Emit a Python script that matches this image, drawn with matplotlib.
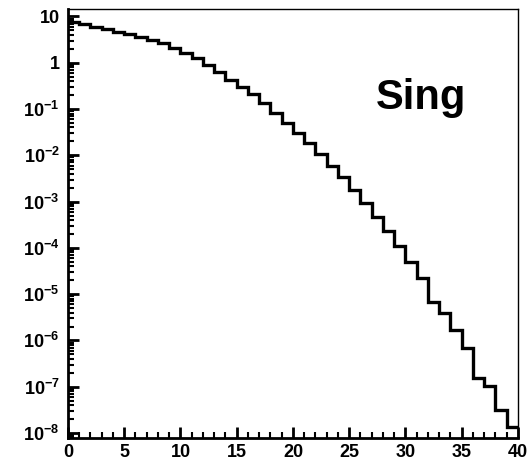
import numpy as np
import matplotlib
matplotlib.use("Agg")
from matplotlib import pyplot as plt
from matplotlib.ticker import FixedLocator, LogLocator, NullFormatter, MultipleLocator

plt.rcParams['font.family'] = ['Liberation Sans', 'DejaVu Sans']
plt.rcParams['font.weight'] = 'bold'
plt.rcParams['mathtext.fontset'] = 'custom'
plt.rcParams['mathtext.rm'] = 'Liberation Sans:bold'
plt.rcParams['mathtext.bf'] = 'Liberation Sans:bold'
plt.rcParams['mathtext.it'] = 'Liberation Sans:bold'
plt.rcParams['mathtext.default'] = 'bf'

# bin edges 0..40, unit width
edges = list(range(0, 41))
counts = [7.71, 6.88, 6.01, 5.36, 4.69, 4.12, 3.61, 3.10, 2.64, 2.05,
          1.60, 1.25, 0.895, 0.617, 0.431, 0.304, 0.208, 0.133, 0.0834, 0.0507,
          0.0308, 0.0188, 0.0105, 0.0060, 0.00332, 0.00178, 9.2e-4, 4.72e-4, 2.28e-4, 1.11e-4,
          4.88e-5, 2.23e-5, 6.9e-6, 3.95e-6, 1.68e-6, 6.77e-7, 1.52e-7, 1.05e-7, 3.1e-8, 1.33e-8]

ytick_vals = [1e1, 1, 1e-1, 1e-2, 1e-3, 1e-4, 1e-5, 1e-6, 1e-7, 1e-8]
ytick_labels = ['10', '1', r'$10^{-1}$', r'$10^{-2}$', r'$10^{-3}$', r'$10^{-4}$',
                r'$10^{-5}$', r'$10^{-6}$', r'$10^{-7}$', r'$10^{-8}$']
xtick_vals = [0, 5, 10, 15, 20, 25, 30, 35, 40]

fig = plt.figure(figsize=(5.31, 4.63), dpi=100)
ax = fig.add_axes([0.128, 0.054, 0.8475, 0.9266])

ax.stairs(counts, edges, color='black', linewidth=2.4, baseline=None)

ax.set_yscale('log')
ax.set_xlim(0, 40)
ax.set_ylim(7.8e-9, 14.5)

ax.yaxis.set_major_locator(FixedLocator(ytick_vals))
ax.set_yticklabels(ytick_labels)
ax.yaxis.set_minor_locator(LogLocator(base=10, subs=np.arange(2, 10), numticks=100))
ax.yaxis.set_minor_formatter(NullFormatter())
ax.xaxis.set_major_locator(FixedLocator(xtick_vals))
ax.set_xticklabels([str(v) for v in xtick_vals])
ax.xaxis.set_minor_locator(MultipleLocator(1))

ax.tick_params(axis='both', which='major', direction='in', length=8, width=2,
               labelsize=13, top=False, right=False)
ax.tick_params(axis='both', which='minor', direction='in', length=4, width=1.5,
               top=False, right=False)
ax.tick_params(axis='y', which='major', pad=6)
ax.tick_params(axis='x', which='major', pad=4.5)
for lab in ax.get_xticklabels() + ax.get_yticklabels():
    lab.set_fontweight('bold')

ax.spines['left'].set_linewidth(2)
ax.spines['bottom'].set_linewidth(2)
ax.spines['top'].set_linewidth(1)
ax.spines['right'].set_linewidth(1)

ax.text(27.35, 0.099, 'Sing', fontsize=30, fontweight='bold', ha='left', va='baseline')

fig.savefig('out.png', dpi=100)
